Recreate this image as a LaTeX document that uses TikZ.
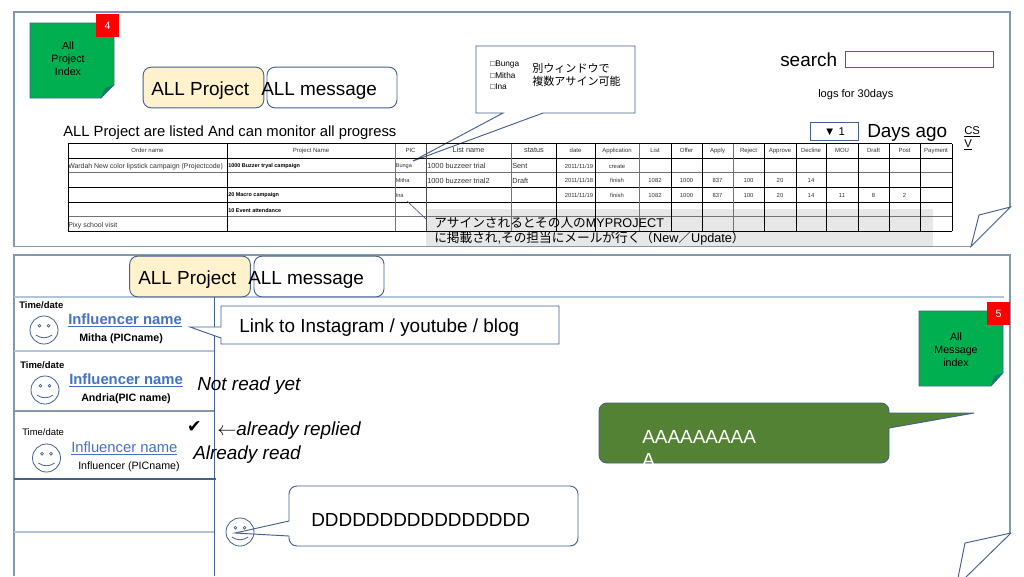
\documentclass[tikz,border=0pt]{standalone}
\usepackage{fontspec}
\setmainfont{Liberation Sans}
\newfontfamily\cjk{Noto Sans CJK JP}
\newfontfamily\symfont{DejaVu Sans}
\newcommand{\fs}[1]{\fontsize{#1}{#1}\selectfont}
\definecolor{panelcol}{HTML}{8497B0}
\definecolor{lightcol}{HTML}{B4C4D8}
\definecolor{inkcol}{HTML}{44608F}
\definecolor{notecol}{HTML}{00B050}
\definecolor{notefold}{HTML}{0B8060}
\definecolor{tabcol}{HTML}{FFF2CC}
\definecolor{bubblecol}{HTML}{548235}
\definecolor{linkcol}{HTML}{4472C4}
\definecolor{bandcol}{HTML}{E7E7E7}
\tikzset{
  panel/.style={draw=panelcol,line width=1.1pt},
  foldline/.style={draw=inkcol,line width=.7pt},
  lightline/.style={draw=lightcol,line width=1.1pt},
  thinbox/.style={draw=inkcol,line width=.7pt,fill=white},
  tabbox/.style={draw=inkcol,line width=.7pt,rounded corners=6pt,inner sep=0pt,minimum height=30.5pt},
  txt/.style={inner sep=0pt,anchor=west},
  mid/.style={inner sep=0pt,anchor=center},
  big/.style={font=\fs{14.2},yshift=-1.5pt},
  hcell/.style={mid,font=\fs{4.5},text=black!80,text height=3.3pt,text depth=1pt,yshift=-.2pt},
  lcell/.style={txt,font=\fs{5.2},text=black!80,yshift=-.6pt},
  bcell/.style={txt,font=\bfseries\fs{4.1},yshift=-.6pt},
  ncell/.style={mid,font=\fs{4.4},text=black!80,yshift=-.6pt},
  notetxt/.style={mid,align=center,font=\fontsize{8}{9.75}\selectfont,yshift=-.6pt},
  redbox/.style={fill=red,text=white,inner sep=0pt,minimum size=17.2pt,font=\fs{8}},
  linkname/.style={txt,font=\bfseries\fs{11.1},text=linkcol,yshift=-1.2pt},
  pics/face/.style={code={
    \node[draw=inkcol,line width=.6pt,circle,inner sep=0pt,minimum size=#1*1.5pt] (-c) {};
    \draw[inkcol,line width=.5pt] (-.32*#1,-.31*#1) circle (.1*#1);
    \draw[inkcol,line width=.5pt] (.32*#1,-.31*#1) circle (.1*#1);
    \draw[inkcol,line width=.6pt] (-.58*#1,.36*#1) .. controls (-.2*#1,.62*#1) and (.2*#1,.62*#1) .. (.58*#1,.36*#1);
  }}
}
\begin{document}
\begin{tikzpicture}[x=.75pt,y=-.75pt]
  \clip (0,0) rectangle (1024,576);
  \fill[white] (0,0) rectangle (1024,576);

  % upper panel
  \draw[panel] (971,246.5) -- (14,246.5) -- (14,12) -- (1010,12) -- (1010,207);
  \draw[foldline] (1010.5,207) -- (979,215) -- (971,246.5) -- cycle;
  \fill[bandcol] (426,209) rectangle (933,246);

  \fill[notecol] (30,23) -- (114,23) -- (114,85) -- (101,98) -- (30,98) -- cycle;
  \fill[notefold] (114,85) -- (105,88) -- (101,98) -- cycle;
  \draw[inkcol,line width=.5pt] (101,98) -- (30,98) -- (30,23) -- (114,23) -- (114,85) -- cycle;
  \node[notetxt] (allindex) at (68,58) {All\\Project\\Index};
  \node[redbox] (badgetop) at (107.5,25.5) {4};

  \node[tabbox,fill=tabcol,minimum width=90.5pt] (tabproject) at (203.5,87.5) {};
  \node[tabbox,fill=white,minimum width=97.5pt] (tabmessage) at (332,87.5) {};
  \node[txt,big] (lblproject) at (151,88.5) {ALL Project};
  \node[txt,big] (lblmessage) at (261,88.5) {ALL message};

  \draw[thinbox] (476,46) -- (635,46) -- (635,113) -- (543,113) -- (413,161) -- (503,113) -- (476,113) -- cycle;
  \node[txt,font=\fs{6.2}] (pic1) at (490,65) {□Bunga};
  \node[txt,font=\fs{6.2}] (pic2) at (490,76) {□Mitha};
  \node[txt,font=\fs{6.2}] (pic3) at (490,86.5) {□Ina};
  \node[txt,font=\cjk\fs{8.3}] (assign1) at (532,68) {別ウィンドウで};
  \node[txt,font=\cjk\fs{8.3}] (assign2) at (532,81) {複数アサイン可能};

  \node[txt,big] (search) at (780,57.5) {search};
  \node[thinbox,inner sep=0pt,minimum width=111.5pt,minimum height=12pt] (searchbox) at (919.5,59) {};
  \node[txt,font=\fs{8.3}] (logs) at (818,95) {logs for 30days};
  \node[txt,font=\fs{11.1},yshift=-.4pt] (listed) at (63,132) {ALL Project are listed And can monitor all progress};
  \node[thinbox,inner sep=0pt,minimum width=36.5pt,minimum height=14pt,font=\fs{8.5}] (daysel) at (834.5,131.5) {▼ 1};
  \node[txt,big] (daysago) at (867,131) {Days ago};
  \node[txt,font=\fs{8.5}] (csv1) at (964,132) {\underline{CS}};
  \node[txt,font=\fs{8.5}] (csv2) at (964,145) {\underline{V}};

  \foreach \y/\c in {143.5/black,158/black,172.7/black!55,187/black,202/black,216.7/black!55,231/black}
    \draw[\c,line width=.7pt] (68,\y) -- (952,\y);
  \foreach \x/\c in {68/black,227/black,395/black!55,426/black!70,511/black!55,556/black,595/black,639/black!55,671/black,702/black,733/black!55,764/black,796/black,826/black,858/black,889/black,920/black,952/black}
    \draw[\c,line width=.7pt] (\x,143.5) -- (\x,231);

  \foreach \x/\t [count=\i] in {147.5/Order name,311/Project Name,410.5/PIC,575.5/date,617/Application,655/List,686.5/Offer,717.5/Apply,748.5/Reject,780/Approve,811/Decline,842/MOU,873.5/Draft,904.5/Post,936/Payment}
    \node[hcell] (head\i) at (\x,151) {\t};
  \node[hcell,font=\fs{5.5}] (headlist) at (468.5,151) {List name};
  \node[hcell,font=\fs{5.5}] (headstatus) at (534,151) {status};

  \node[lcell] (order1) at (68,165.5) {Wardah New color lipstick campaign (Projectcode)};
  \node[lcell] (order2) at (68,224.5) {Pixy school visit};
  \node[bcell] (proj1) at (228,165.5) {1000 Buzzer tryal campaign};
  \node[bcell] (proj2) at (228,194.5) {20 Macro campaign};
  \node[bcell] (proj3) at (228,209.5) {10 Event attendance};
  \node[txt,font=\fs{4.2},text=black!80,yshift=-.6pt] (who1) at (395.5,165.5) {Bunga};
  \node[txt,font=\fs{4.2},text=black!80,yshift=-.6pt] (who2) at (395.5,180) {Mitha};
  \node[txt,font=\fs{4.2},text=black!80,yshift=-.6pt] (who3) at (395.5,194.5) {Ina};
  \node[txt,font=\fs{5.5},text=black!80,yshift=-.6pt] (list1) at (427,165.5) {1000 buzzeer trial};
  \node[txt,font=\fs{5.5},text=black!80,yshift=-.6pt] (list2) at (427,180) {1000 buzzeer trial2};
  \node[txt,font=\fs{5.5},text=black!80,yshift=-.6pt] (stat1) at (512,165.5) {Sent};
  \node[txt,font=\fs{5.5},text=black!80,yshift=-.6pt] (stat2) at (512,180) {Draft};

  \foreach \y/\d/\a [count=\i] in {165.5/19/create,180/18/finish,194.5/19/finish}{
    \node[ncell] (date\i) at (579,\y) {2011/11/\d};
    \node[ncell] (app\i) at (617,\y) {\a};
  }
  \foreach \y [count=\j] in {180,194.5}
    \foreach \x/\t [count=\i] in {655/1082,686.5/1000,717.5/837,748.5/100,780/20,811/14}
      \node[ncell] (num\j-\i) at (\x,\y) {\t};
  \foreach \x/\t [count=\i] in {842/11,873.5/8,904.5/2}
    \node[ncell] (extra\i) at (\x,194.5) {\t};

  \coordinate (notetip) at (407,201);
  \coordinate (noteend) at (426,219);
  \draw[inkcol,line width=.5pt] (notetip) -- (noteend);
  \node[txt,font=\fs{9.5},yshift=-1pt] (note1) at (434,221) {{\cjk アサインされるとその人の}MYPROJECT};
  \node[txt,font=\fs{9.5},yshift=-1pt] (note2) at (434,237) {{\cjk に掲載され},{\cjk その担当にメールが行く（}New{\cjk ／}Update{\cjk ）}};

  % lower panel
  \draw[panel] (14,576) -- (14,255) -- (1010,255) -- (1010,533);
  \draw[foldline] (1011,533) -- (965,543) -- (958,578);
  \draw[foldline] (1011,533) -- (965,578);
  \draw[lightline] (14,297) -- (1004,297);
  \draw[lightline] (14,351) -- (214.5,351);
  \draw[panel,line width=.9pt] (14,411) -- (214.5,411);
  \draw[lightline] (14,532) -- (214.5,532);
  \draw[panel,draw=inkcol,line width=.8pt] (214.5,297) -- (214.5,576);
  \draw[draw=inkcol,line width=1.1pt] (14,479) -- (216,479);

  \node[tabbox,fill=tabcol,minimum width=90.5pt] (tabproject2) at (190,276.5) {};
  \node[tabbox,fill=white,minimum width=97.5pt] (tabmessage2) at (319,276.5) {};
  \node[txt,big] (lblproject2) at (138,277.5) {ALL Project};
  \node[txt,big] (lblmessage2) at (248,277.5) {ALL message};

  \node[txt,font=\bfseries\fs{7.1}] (time1) at (19,305) {Time/date};
  \node[txt,font=\bfseries\fs{7.1}] (time2) at (20,365) {Time/date};
  \node[txt,font=\fs{7.1}] (time3) at (22,432) {Time/date};
  \pic (face1) at (44,330) {face=14};
  \pic (face2) at (45,390) {face=14};
  \pic (face3) at (46.5,458) {face=14};
  \node[linkname] (name1) at (68,319) {\underline{Influencer name}};
  \node[linkname] (name2) at (69,379) {\underline{Influencer name}};
  \node[linkname,font=\fs{11.1}] (name3) at (71,447) {\underline{Influencer name}};
  \node[txt,font=\bfseries\fs{8}] (pname1) at (79,339) {Mitha (PICname)};
  \node[txt,font=\bfseries\fs{8}] (pname2) at (81,399) {Andria(PIC name)};
  \node[txt,font=\fs{8}] (pname3) at (78,467) {Influencer (PICname)};

  \draw[thinbox] (221,306) -- (559,306) -- (559,344) -- (221,344) -- (221,338) -- (190,327) -- (221,327) -- cycle;
  \node[txt,big] (linktxt) at (239,326) {Link to Instagram / youtube / blog};

  \node[txt,big,font=\itshape\fs{14.2}] (notread) at (197,384) {Not read yet};
  \node[mid,font=\symfont\fs{13}] (tick) at (194.5,427.5) {✔};
  \node[txt,big,font=\itshape\fs{14.2}] (replied) at (217,429) {$\leftarrow$already replied};
  \node[txt,big,font=\itshape\fs{14.2}] (isread) at (193,453) {Already read};

  \fill[notecol] (919,311) -- (1003,311) -- (1003,373) -- (991,386) -- (919,386) -- cycle;
  \fill[notefold] (1003,373) -- (994,376) -- (991,386) -- cycle;
  \draw[inkcol,line width=.5pt] (991,386) -- (919,386) -- (919,311) -- (1003,311) -- (1003,373) -- cycle;
  \node[notetxt] (msgindex) at (956,349) {All\\Message\\index};
  \node[redbox] (badgelow) at (998.5,313.5) {5};

  \draw[draw=inkcol,line width=.7pt,fill=bubblecol,rounded corners=6pt] (889,413) -- (889,403) -- (599,403) -- (599,463) -- (889,463) [sharp corners] -- (889,428) -- (974,413) -- cycle;
  \node[txt,big,text width=87pt,text=white,align=left,font=\fontsize{14.2}{17}\selectfont] (aaa) at (642,446.5) {AAAAAAAAA\\A};

  \draw[draw=inkcol,line width=.7pt,fill=white,rounded corners=6pt] (289,521) -- (289,486) -- (578,486) -- (578,546) -- (289,546) [sharp corners] -- (289,536) -- (235,533) -- cycle;
  \node[txt,big] (ddd) at (311,518) {DDDDDDDDDDDDDDDD};
  \pic (face4) at (240,532) {face=14};
\end{tikzpicture}
\end{document}
